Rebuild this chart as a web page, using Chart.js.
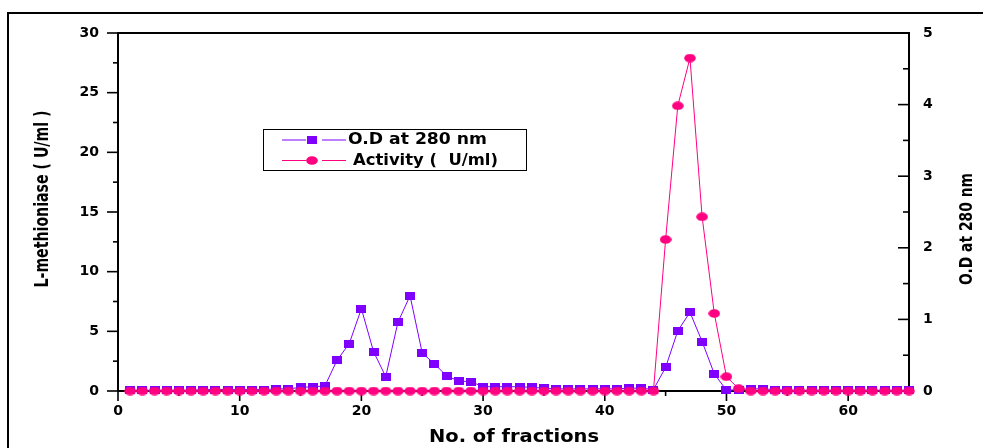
<!DOCTYPE html>
<html>
<head>
<meta charset="utf-8">
<script src="https://cdn.jsdelivr.net/npm/chart.js@4.4.1/dist/chart.umd.min.js"></script>
<style>
html, body { margin:0; padding:0; background:#fff; }
#caixa { width:983px; height:448px; position:relative; }
</style>
</head>
<body>
<div id="caixa"><canvas id="grafico"></canvas></div>
<script>

// =====================================
// DADOS
// =====================================

const fracoes = [
    1,2,3,4,5,6,7,8,9,10,
    11,12,13,14,15,16,17,18,19,20,
    21,22,23,24,25,26,27,28,29,30,
    31,32,33,34,35,36,37,38,39,40,
    41,42,43,44,45,46,47,48,49,50,
    51,52,53,54,55,56,57,58,59,60,
    61,62,63,64,65
];

// O.D at 280 nm (eixo direito)
const odValores = [
    0.01,0.01,0.01,0.01,0.01,0.01,0.02,0.02,0.02,0.02,
    0.02,0.02,0.03,0.03,0.05,0.06,0.07,0.43,0.66,1.15,
    0.55,0.20,0.96,1.33,0.53,0.38,0.21,0.14,0.13,0.06,
    0.06,0.06,0.06,0.05,0.04,0.03,0.03,0.03,0.03,0.03,
    0.03,0.04,0.04,0.02,0.33,0.84,1.10,0.69,0.24,0.01,
    0.02,0.03,0.03,0.02,0.01,0.01,0.01,0.01,0.01,0.01,
    0.01,0.01,0.01,0.01,0.01
];

// Activity ( U/ml ) (eixo esquerdo)
const atividade = [
    0,0,0,0,0,0,0,0,0,0,
    0,0,0,0,0,0,0,0,0,0,
    0,0,0,0,0,0,0,0,0,0,
    0,0,0,0,0,0,0,0,0,0,
    0,0,0,0,12.7,23.9,27.9,14.6,6.5,1.2,
    0.2,0,0,0,0,0,0,0,0,0,
    0,0,0,0,0
];

const rotulosX = [0,10,20,30,40,50,60];
const rotulosEsq = [0,5,10,15,20,25,30];
const rotulosDir = [0,1,2,3,4,5];

const COR_OD = "#7f00ff";
const COR_ATIV = "#ff0080";


// =====================================
// MARCADORES
// =====================================

function marcadorQuadrado(){
    const c = document.createElement("canvas");
    c.width = 10; c.height = 8;
    const g = c.getContext("2d");
    g.fillStyle = COR_OD;
    g.fillRect(0,0,10,8);
    return c;
}

function marcadorCirculo(){
    const c = document.createElement("canvas");
    c.width = 12; c.height = 9;
    const g = c.getContext("2d");
    g.fillStyle = COR_ATIV;
    g.beginPath();
    g.ellipse(6,4.5,5.8,4.3,0,0,Math.PI*2);
    g.fill();
    return c;
}

const imgQuadrado = marcadorQuadrado();
const imgCirculo = marcadorCirculo();


// =====================================
// TEXTO AJUSTADO
// =====================================

function textoAjustado(ctx, texto, cx, cy, largura, rot, fonte){
    ctx.save();
    ctx.font = fonte;
    ctx.translate(cx, cy);
    ctx.rotate(rot);
    const w = ctx.measureText(texto).width;
    ctx.scale(largura / w, 1);
    ctx.textAlign = "center";
    ctx.textBaseline = "middle";
    ctx.fillStyle = "#000";
    ctx.fillText(texto, 0, 0);
    ctx.restore();
}

function linha(ctx, x1, y1, x2, y2){
    ctx.beginPath();
    ctx.moveTo(x1, y1);
    ctx.lineTo(x2, y2);
    ctx.stroke();
}


// =====================================
// PLUGIN EIXOS / LEGENDA
// =====================================

const pluginMoldura = {
    id: "moldura",

    beforeDraw(chart){
        const ctx = chart.ctx;
        ctx.save();
        ctx.strokeStyle = "#000";
        ctx.lineWidth = 2;
        ctx.strokeRect(8, 13, 1000, 460);
        ctx.restore();
    },

    beforeDatasetsDraw(chart){
        const ctx = chart.ctx;
        const a = chart.chartArea;
        ctx.save();
        ctx.strokeStyle = "#000";
        ctx.lineWidth = 2;
        ctx.strokeRect(a.left, a.top, a.right - a.left, a.bottom - a.top);

        ctx.lineWidth = 1.6;

        const yE = chart.scales.yEsq;
        yE.ticks.forEach(t=>{
            const p = yE.getPixelForValue(t.value);
            const maior = rotulosEsq.includes(t.value);
            linha(ctx, a.left - (maior ? 11 : 5), p, a.left, p);
        });

        const yD = chart.scales.yDir;
        yD.ticks.forEach(t=>{
            const p = yD.getPixelForValue(t.value);
            const maior = rotulosDir.includes(t.value);
            linha(ctx, a.right - (maior ? 11 : 6), p, a.right, p);
        });

        const x = chart.scales.x;
        x.ticks.forEach(t=>{
            if(t.value > 60) return;
            const p = x.getPixelForValue(t.value);
            const maior = rotulosX.includes(t.value);
            linha(ctx, p, a.bottom, p, a.bottom + (maior ? 10 : 5));
        });

        ctx.restore();
    },

    afterDraw(chart){
        const ctx = chart.ctx;

        textoAjustado(ctx, "L-methioniase ( U/ml )", 43, 199, 177, -Math.PI/2,
            "bold 19px 'DejaVu Sans'");
        textoAjustado(ctx, "O.D at 280 nm", 967, 229, 112, -Math.PI/2,
            "bold 18px 'DejaVu Sans'");
        textoAjustado(ctx, "No. of fractions", 514, 438, 170, 0,
            "bold 17px 'DejaVu Sans'");

        // legenda
        ctx.save();
        ctx.strokeStyle = "#000";
        ctx.lineWidth = 1;
        ctx.strokeRect(263.5, 129.5, 263, 41);

        ctx.lineWidth = 1;
        ctx.strokeStyle = COR_OD;
        linha(ctx, 282, 140, 306, 140);
        linha(ctx, 322, 140, 346, 140);
        ctx.drawImage(imgQuadrado, 312 - 5, 140 - 4);

        ctx.strokeStyle = COR_ATIV;
        linha(ctx, 282, 160.5, 306, 160.5);
        linha(ctx, 322, 160.5, 346, 160.5);
        ctx.drawImage(imgCirculo, 312 - 6, 160.5 - 4.5);
        ctx.restore();

        textoAjustado(ctx, "O.D at 280 nm", 417.5, 140, 139, 0,
            "bold 16px 'DejaVu Sans'");
        textoAjustado(ctx, "Activity (  U/ml)", 425.5, 160.5, 145, 0,
            "bold 16px 'DejaVu Sans'");
    }
};


// =====================================
// GRAFICO
// =====================================

const fonteTicks = { family:"DejaVu Sans", weight:"bold", size:14 };

new Chart(document.getElementById("grafico"),{

    type:"line",

    data:{
        datasets:[
            {
                label:"O.D at 280 nm",
                data: fracoes.map((f,i)=>({x:f, y:odValores[i]})),
                yAxisID:"yDir",
                borderColor: COR_OD,
                borderWidth:1,
                pointStyle: imgQuadrado,
                pointRadius:5,
                clip:false,
                order:1
            },
            {
                label:"Activity (  U/ml)",
                data: fracoes.map((f,i)=>({x:f, y:atividade[i]})),
                yAxisID:"yEsq",
                borderColor: COR_ATIV,
                borderWidth:1,
                pointStyle: imgCirculo,
                pointRadius:5,
                clip:false,
                order:0
            }
        ]
    },

    options:{
        responsive:true,
        maintainAspectRatio:false,
        animation:false,
        events:[],
        layout:{ padding:{ top:33, left:0, right:0, bottom:0 } },
        plugins:{
            legend:{ display:false },
            tooltip:{ enabled:false }
        },
        scales:{
            x:{
                type:"linear",
                min:0, max:65,
                grid:{ display:false, drawTicks:false },
                border:{ display:false },
                ticks:{
                    stepSize:5,
                    autoSkip:false,
                    maxRotation:0,
                    padding:12,
                    color:"#000",
                    font:fonteTicks,
                    callback:v=> rotulosX.includes(v) ? v : ""
                },
                afterFit:s=>{ s.height = 57; }
            },
            yEsq:{
                type:"linear",
                position:"left",
                min:0, max:30,
                grid:{ display:false, drawTicks:false },
                border:{ display:false },
                ticks:{
                    stepSize:2.5,
                    autoSkip:false,
                    padding:19,
                    color:"#000",
                    font:fonteTicks,
                    callback:v=> rotulosEsq.includes(v) ? v : ""
                },
                afterFit:s=>{ s.width = 118; }
            },
            yDir:{
                type:"linear",
                position:"right",
                min:0, max:5,
                grid:{ display:false, drawTicks:false },
                border:{ display:false },
                ticks:{
                    stepSize:0.5,
                    autoSkip:false,
                    padding:14,
                    color:"#000",
                    font:fonteTicks,
                    callback:v=> rotulosDir.includes(v) ? v : ""
                },
                afterFit:s=>{ s.width = 74; }
            }
        }
    },

    plugins:[pluginMoldura]
});

</script>
</body>
</html>
